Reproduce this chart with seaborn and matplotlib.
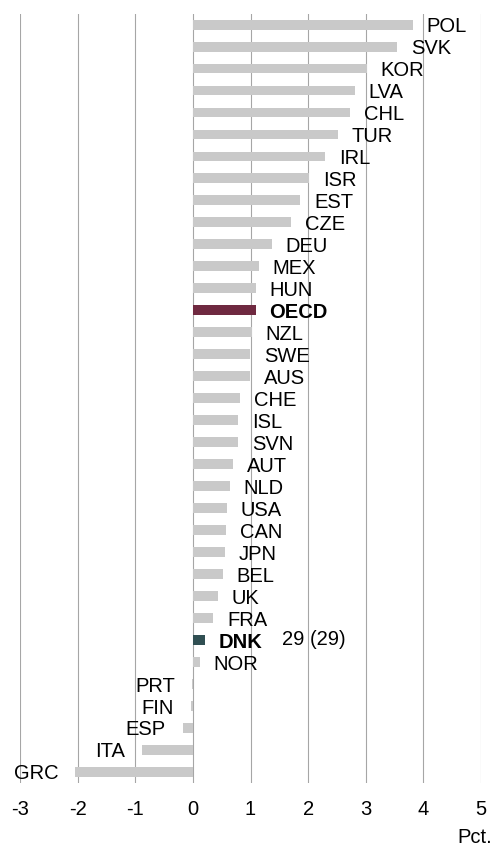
import matplotlib
matplotlib.use('Agg')
import matplotlib.pyplot as plt
import seaborn as sns
import pandas as pd

countries = ['POL', 'SVK', 'KOR', 'LVA', 'CHL', 'TUR', 'IRL', 'ISR', 'EST', 'CZE',
             'DEU', 'MEX', 'HUN', 'OECD', 'NZL', 'SWE', 'AUS', 'CHE', 'ISL', 'SVN',
             'AUT', 'NLD', 'USA', 'CAN', 'JPN', 'BEL', 'UK', 'FRA', 'DNK', 'NOR',
             'PRT', 'FIN', 'ESP', 'ITA', 'GRC']
values = [3.82, 3.54, 3.02, 2.81, 2.73, 2.52, 2.30, 2.02, 1.86, 1.70,
          1.37, 1.14, 1.09, 1.09, 1.02, 0.99, 0.99, 0.82, 0.79, 0.78,
          0.69, 0.64, 0.59, 0.57, 0.56, 0.52, 0.43, 0.35, 0.21, 0.12,
          -0.02, -0.04, -0.18, -0.89, -2.04]
highlight = {'OECD': '#7a1e3c', 'DNK': '#2a5458'}
rank_note = '29 (29)'

df = pd.DataFrame({'country': countries, 'value': values})
palette = {c: highlight.get(c, '#c9c9c9') for c in countries}

plt.rcParams['font.family'] = ['Liberation Sans', 'DejaVu Sans']
plt.rcParams['axes.unicode_minus'] = False
fig = plt.figure(figsize=(4.95, 8.5), dpi=100)
ax = fig.add_axes([0.0406, 0.079, 0.931, 0.905])

sns.barplot(data=df, x='value', y='country', hue='country', palette=palette,
            orient='h', width=0.45, legend=False, ax=ax, zorder=3)

ax.set_xlim(-3, 5)
ax.set_ylim(len(countries) - 0.5, -0.5)
ax.set_xticks(range(-3, 6))
ax.grid(axis='x', color='#a6a6a6', linewidth=0.8, zorder=0)
ax.grid(axis='y', visible=False)
ax.set_axisbelow(True)
for s in ax.spines.values():
    s.set_visible(False)
ax.set_yticks([])
ax.set_ylabel('')
ax.set_xlabel('')
ax.tick_params(axis='x', length=0, pad=12, labelsize=14.5)

for i, (c, v) in enumerate(zip(countries, values)):
    bold = c in highlight
    if v >= 0:
        ax.annotate(c, (v, i), xytext=(10, -1.5), textcoords='offset points',
                    ha='left', va='center', fontsize=14.5,
                    fontweight='bold' if bold else 'normal')
    else:
        ax.annotate(c, (v, i), xytext=(-12, -1.5), textcoords='offset points',
                    ha='right', va='center', fontsize=14.5)

dnk = countries.index('DNK')
ax.text(1.55, dnk, rank_note, ha='left', va='center', fontsize=14.5)

fig.text(0.994, 0.003, 'Pct.', ha='right', va='bottom', fontsize=14.5)

fig.savefig('out.png', dpi=100)
